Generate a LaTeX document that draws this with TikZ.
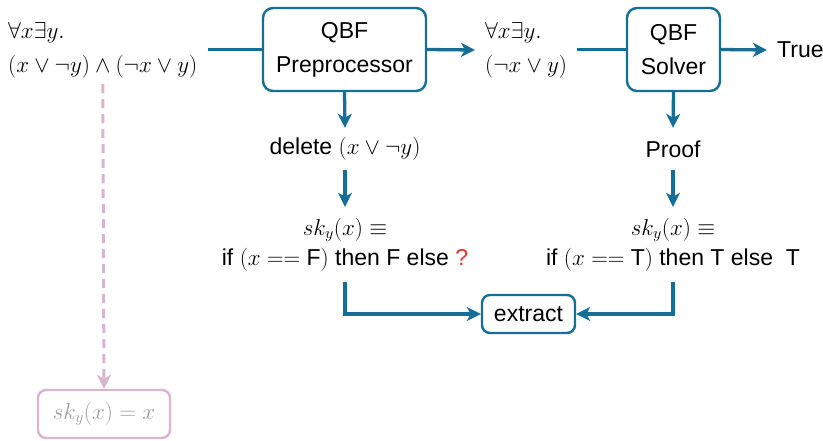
\RequirePackage{fix-cm}
\documentclass[tikz,border=0pt]{standalone}
\usepackage[no-math]{fontspec}
\setmainfont{Liberation Sans}
\usetikzlibrary{arrows.meta}
\definecolor{qblue}{RGB}{22,110,150}
\definecolor{qpink}{RGB}{218,180,205}
\definecolor{qgray}{RGB}{160,160,160}
\definecolor{qred}{RGB}{230,50,40}
\tikzset{
  base/.style={font=\fontsize{23}{34}\selectfont, text=black},
  procbox/.style={base, draw=qblue, line width=2.4pt, rounded corners=10pt, align=center, inner sep=0pt},
  plain/.style={base, inner sep=0pt, align=center},
  conn/.style={draw=qblue, line width=3.3pt},
  arr/.style={conn, -{Stealth[length=14pt,width=14pt,inset=4pt]}},
  ghost/.style={draw=qpink, line width=3pt, dash pattern=on 9pt off 6pt, -{Stealth[length=14pt,width=14pt,inset=4pt]}},
  ghostbox/.style={base, draw=qpink, line width=2.4pt, rounded corners=8pt, text=qgray, inner sep=0pt}
}
\begin{document}
\begin{tikzpicture}[x=1pt,y=-1pt]
\useasboundingbox (0,0) rectangle (823,440);
% formula nodes
\node[base, align=left, anchor=west, inner xsep=10pt, inner ysep=6pt] (inL) at (-2,50) {$\forall x\exists y.$\\$(x\vee\neg y)\wedge(\neg x\vee y)$};
\node[procbox, minimum width=163pt, minimum height=83pt] (pre) at (344.5,49.5) {QBF\\Preprocessor};
\node[base, align=left, anchor=west, inner xsep=10pt] (mid) at (475,50) {$\forall x\exists y.$\\$(\neg x\vee y)$};
\node[procbox, minimum width=93pt, minimum height=83pt] (sol) at (673.5,49.5) {QBF\\Solver};
\node[base, anchor=west, inner xsep=10pt] (tru) at (767,50) {True};
% left column
\node[plain, minimum height=42pt] (del) at (345,149) {delete $(x\vee\neg y)$};
\node[plain, minimum height=75pt, font=\fontsize{23}{30}\selectfont] (skL) at (345,244.5) {$sk_y(x)\equiv$\\if $(x==\mbox{F})$ then F else {\color{qred}?}};
% right column
\node[plain, minimum height=42pt] (prf) at (673,149) {Proof};
\node[plain, minimum height=75pt, font=\fontsize{23}{30}\selectfont] (skR) at (673,244.5) {$sk_y(x)\equiv$\\if $(x==\mbox{T})$ then T else~~T};
% extract
\node[procbox, rounded corners=8pt, minimum width=93pt, minimum height=38pt] (ext) at (528.5,314) {extract};
% ghost
\node[ghostbox, minimum width=132pt, minimum height=48pt] (skx) at (104,414) {$sk_y(x)=x$};
% connectors
\draw[conn] (inL.east |- pre.west) -- (pre.west);
\draw[arr] (pre.east) -- (mid.west);
\draw[conn] (mid.east |- sol.west) -- (sol.west);
\draw[arr] (sol.east) -- (tru.west);
\draw[arr] (pre.south) -- (del.north);
\draw[arr] (del.south) -- (skL.north);
\draw[arr] (sol.south) -- (prf.north);
\draw[arr] (prf.south) -- (skR.north);
\draw[arr] (skL.south) |- (ext.west);
\draw[arr] (skR.south) |- (ext.east);
\draw[ghost] (inL.south) -- (skx.north);
\end{tikzpicture}
\end{document}
